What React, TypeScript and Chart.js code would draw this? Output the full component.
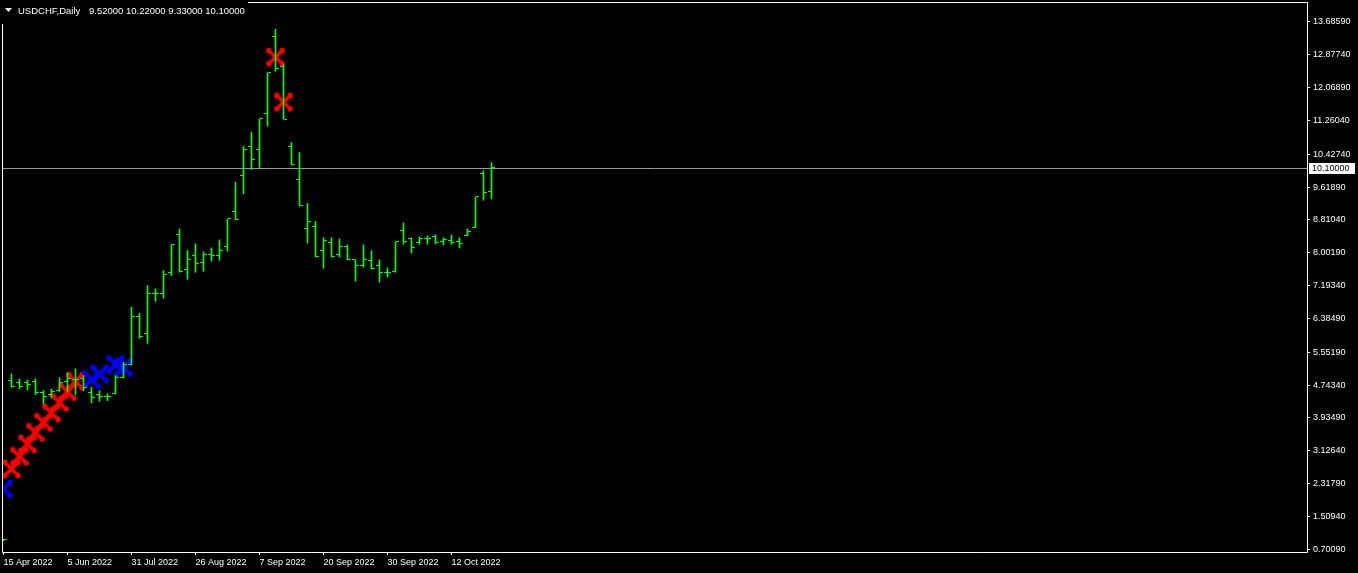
import React, { useEffect, useRef } from 'react';
import { Chart, registerables } from 'chart.js';

Chart.register(...registerables);

// ---- data ----
const symbolTitle = 'USDCHF,Daily';
const opens = [
  0.93, 4.844, 4.794, 4.794, 4.834, 4.548, 4.499, 4.605, 4.819, 4.868,
  4.893, 4.548, 4.506, 4.464, 4.523, 4.932, 5.238, 6.428, 6.002, 6.988,
  6.988, 7.505, 8.442, 7.579, 7.924, 7.752, 7.949, 7.924, 8.146, 9.016,
  9.903, 10.617, 10.536, 11.423, 13.328, 12.581, 10.61, 9.797, 8.589, 8.639,
  8.05, 8.244, 7.949, 8.146, 7.825, 7.678, 7.801, 7.678, 7.505, 7.545,
  8.54, 8.345, 8.244, 8.345, 8.392, 8.269, 8.294, 8.269, 8.417, 8.614,
  9.945, 9.52,
];
const highs = [
  0.95, 5.016, 4.893, 4.868, 4.893, 4.605, 4.647, 4.918, 5.041, 5.139,
  4.974, 4.686, 4.605, 4.523, 4.974, 5.302, 6.657, 6.51, 7.192, 7.111,
  7.562, 8.203, 8.589, 8.055, 8.22, 8.023, 8.121, 8.318, 8.836, 9.738,
  10.617, 10.97, 11.3, 12.434, 13.501, 12.631, 10.716, 10.47, 9.213, 8.769,
  8.37, 8.37, 8.345, 8.195, 7.825, 8.195, 8.047, 7.825, 7.628, 8.269,
  8.737, 8.368, 8.392, 8.417, 8.442, 8.368, 8.442, 8.368, 8.589, 9.378,
  10.019, 10.22,
];
const lows = [
  0.91, 4.686, 4.647, 4.622, 4.506, 4.277, 4.44, 4.587, 4.587, 4.506,
  4.605, 4.302, 4.341, 4.358, 4.523, 4.918, 5.238, 5.894, 5.77, 6.805,
  6.879, 7.439, 7.52, 7.347, 7.52, 7.545, 7.791, 7.816, 8.037, 8.811,
  9.452, 10.051, 10.1, 11.118, 12.473, 11.29, 10.162, 9.156, 8.235, 7.895,
  7.619, 7.895, 7.895, 7.825, 7.298, 7.643, 7.594, 7.273, 7.397, 7.52,
  8.21, 7.988, 8.21, 8.21, 8.22, 8.195, 8.21, 8.121, 8.417, 8.614,
  9.294, 9.33,
];
const closes = [
  0.93, 4.703, 4.711, 4.745, 4.548, 4.464, 4.587, 4.794, 4.9, 4.868,
  4.686, 4.425, 4.464, 4.464, 4.918, 5.245, 6.428, 5.943, 6.988, 6.988,
  7.456, 8.203, 7.53, 7.825, 7.727, 7.949, 7.924, 8.047, 8.836, 8.811,
  10.536, 10.29, 11.3, 12.434, 12.547, 11.29, 10.167, 9.156, 8.762, 7.899,
  8.294, 7.919, 8.146, 7.825, 7.678, 7.825, 7.604, 7.505, 7.505, 8.269,
  8.269, 8.121, 8.345, 8.345, 8.244, 8.318, 8.244, 8.22, 8.515, 9.378,
  9.477, 10.1,
];
const redMarkBars = [1, 2, 3, 4, 5, 6, 7, 8, 9, 34, 35];
const redMarkValues = [2.675, 2.986, 3.291, 3.577, 3.824, 4.055, 4.316, 4.58, 4.834, 12.818, 11.709];
const blueMarkBars = [0, 11, 12, 14, 15];
const blueMarkValues = [2.19, 4.876, 5.016, 5.245, 5.179];
const xTickBars = [0, 8, 16, 24, 32, 40, 48, 56];
const xTickLabels = [
  '15 Apr 2022', '5 Jun 2022', '31 Jul 2022', '26 Aug 2022',
  '7 Sep 2022', '20 Sep 2022', '30 Sep 2022', '12 Oct 2022',
];
const yTickValues = [
  13.6859, 12.8774, 12.0689, 11.2604, 10.4274, 9.6189, 8.8104, 8.0019, 7.1934,
  6.3849, 5.5519, 4.7434, 3.9349, 3.1264, 2.3179, 1.5094, 0.7009,
];
const bidPrice = 10.1;

const FONT = '"Liberation Sans", Arial, sans-serif';
const BAR_COLOR = '#00ff00';

function makeTick(side: 'left' | 'right') {
  const c = document.createElement('canvas');
  c.width = 7;
  c.height = 1;
  const g = c.getContext('2d')!;
  g.fillStyle = BAR_COLOR;
  g.fillRect(side === 'left' ? 0 : 4, 0, 3, 1);
  return c;
}

function makeCross(color: string) {
  const size = 28;
  const c = document.createElement('canvas');
  c.width = size;
  c.height = size;
  const g = c.getContext('2d')!;
  const cx = size / 2;
  const cy = size / 2;
  const d = 6.0;
  g.strokeStyle = color;
  g.fillStyle = color;
  g.lineWidth = 3.7;
  g.lineCap = 'round';
  g.beginPath();
  g.moveTo(cx - d, cy - d);
  g.lineTo(cx + d, cy + d);
  g.moveTo(cx + d, cy - d);
  g.lineTo(cx - d, cy + d);
  g.stroke();
  const ends = [
    [-1, -1],
    [1, 1],
    [1, -1],
    [-1, 1],
  ];
  for (const [sx, sy] of ends) {
    g.beginPath();
    g.arc(cx + sx * (d + 0.6), cy + sy * (d + 0.6), 2.8, 0, Math.PI * 2);
    g.fill();
  }
  return c;
}

const overlayPlugin = {
  id: 'mt4Overlay',
  beforeDraw(chart: any) {
    const { ctx, width, height } = chart;
    ctx.save();
    ctx.fillStyle = '#000';
    ctx.fillRect(0, 0, width, height);
    ctx.restore();
  },
  beforeDatasetsDraw(chart: any) {
    const { ctx, chartArea } = chart;
    const y = Math.round(chart.scales.y.getPixelForValue(bidPrice)) + 0.5;
    ctx.save();
    ctx.strokeStyle = '#9a9ca0';
    ctx.lineWidth = 1;
    ctx.beginPath();
    ctx.moveTo(chartArea.left, y);
    ctx.lineTo(chartArea.right, y);
    ctx.stroke();
    ctx.restore();
  },
  afterDraw(chart: any) {
    const { ctx, chartArea } = chart;
    const l = chartArea.left + 0.5;
    const t = chartArea.top + 0.5;
    const r = chartArea.right + 0.5;
    const b = chartArea.bottom + 0.5;
    ctx.save();
    ctx.strokeStyle = '#ffffff';
    ctx.lineWidth = 1;
    ctx.beginPath();
    ctx.moveTo(l, t);
    ctx.lineTo(r, t);
    ctx.lineTo(r, b);
    ctx.lineTo(l, b);
    ctx.closePath();
    ctx.stroke();
    ctx.fillStyle = '#000';
    ctx.fillRect(0, 0, 248, 24);
    ctx.fillStyle = '#ffffff';
    ctx.beginPath();
    ctx.moveTo(5, 8);
    ctx.lineTo(12, 8);
    ctx.lineTo(8.5, 12);
    ctx.closePath();
    ctx.fill();
    const last = opens.length - 1;
    ctx.font = `9.5px ${FONT}`;
    ctx.textBaseline = 'alphabetic';
    ctx.textAlign = 'left';
    ctx.fillText(symbolTitle, 18, 14);
    const ohlc = [opens[last], highs[last], lows[last], closes[last]].map((v) => v.toFixed(5)).join(' ');
    ctx.fillText(ohlc, 89, 14);
    const y = Math.round(chart.scales.y.getPixelForValue(bidPrice));
    ctx.fillStyle = '#ffffff';
    ctx.fillRect(1309, y - 5, 46, 11);
    ctx.fillStyle = '#000000';
    ctx.font = `9px ${FONT}`;
    ctx.textBaseline = 'middle';
    ctx.fillText(bidPrice.toFixed(5), 1312, y + 0.5);
    ctx.restore();
  },
};

export default function App() {
  const ref = useRef<HTMLCanvasElement | null>(null);

  useEffect(() => {
    document.body.style.margin = '0';
    document.body.style.background = '#000';
    const canvas = ref.current;
    if (!canvas) return;
    const openImg = makeTick('left');
    const closeImg = makeTick('right');
    const redImg = makeCross('#ff0000');
    const blueImg = makeCross('#0000ff');
    const idx = opens.map((_, i) => i);

    const yMax = 14.1755;
    const yMin = 0.6317;

    const chart = new Chart(canvas, {
      type: 'bar',
      data: {
        datasets: [
          {
            type: 'scatter',
            data: redMarkBars.map((b, k) => ({ x: b, y: redMarkValues[k] })),
            pointStyle: redImg as any,
            pointRadius: 10,
            pointHoverRadius: 10,
            clip: 0,
            order: 10,
          } as any,
          {
            type: 'scatter',
            data: blueMarkBars.map((b, k) => ({ x: b, y: blueMarkValues[k] })),
            pointStyle: blueImg as any,
            pointRadius: 10,
            pointHoverRadius: 10,
            clip: 0,
            order: 9,
          } as any,
          {
            type: 'bar',
            data: idx.map((i) => ({ x: i, y: [lows[i], highs[i]] })),
            backgroundColor: BAR_COLOR,
            borderWidth: 0,
            barThickness: 1,
            grouped: false,
            clip: 0,
            order: 2,
          } as any,
          {
            type: 'scatter',
            data: idx.map((i) => ({ x: i, y: opens[i] })),
            pointStyle: openImg as any,
            pointRadius: 3,
            pointHoverRadius: 3,
            clip: 0,
            order: 1,
          } as any,
          {
            type: 'scatter',
            data: idx.map((i) => ({ x: i, y: closes[i] })),
            pointStyle: closeImg as any,
            pointRadius: 3,
            pointHoverRadius: 3,
            clip: 0,
            order: 0,
          } as any,
        ],
      },
      options: {
        animation: false,
        responsive: false,
        events: [],
        layout: { autoPadding: false, padding: { left: 2, top: 2, right: 0, bottom: 0 } },
        plugins: {
          legend: { display: false },
          tooltip: { enabled: false },
        },
        scales: {
          x: {
            type: 'linear',
            min: -0.1875,
            max: 162.9375,
            offset: false,
            grid: {
              display: true,
              drawOnChartArea: false,
              drawTicks: true,
              tickLength: 3,
              color: '#ffffff',
              offset: false,
            },
            border: { display: false },
            ticks: {
              color: '#ffffff',
              font: { family: FONT, size: 9 },
              padding: 2,
              align: 'start',
              maxRotation: 0,
              autoSkip: false,
              callback: (value: any) => {
                const k = xTickBars.indexOf(Number(value));
                return k >= 0 ? xTickLabels[k] : '';
              },
            },
            afterBuildTicks: (s: any) => {
              s.ticks = xTickBars.map((v) => ({ value: v }));
            },
            afterFit: (s: any) => {
              s.height = 21;
              s.paddingLeft = 0;
              s.paddingRight = 0;
            },
          },
          y: {
            type: 'linear',
            position: 'right',
            min: yMin,
            max: yMax,
            grid: {
              display: true,
              drawOnChartArea: false,
              drawTicks: true,
              tickLength: 3,
              color: '#ffffff',
            },
            border: { display: false },
            ticks: {
              color: '#ffffff',
              font: { family: FONT, size: 9 },
              padding: 3,
              autoSkip: false,
              callback: (value: any) => Number(value).toFixed(5),
            },
            afterBuildTicks: (s: any) => {
              s.ticks = yTickValues.map((v) => ({ value: v }));
            },
            afterFit: (s: any) => {
              s.width = 51;
              s.paddingTop = 0;
              s.paddingBottom = 0;
            },
          },
        },
      } as any,
      plugins: [overlayPlugin],
    });

    return () => chart.destroy();
  }, []);

  return (
    <div style={{ width: 1358, height: 573, background: '#000' }}>
      <canvas ref={ref} width={1358} height={573} style={{ display: 'block' }} />
    </div>
  );
}
